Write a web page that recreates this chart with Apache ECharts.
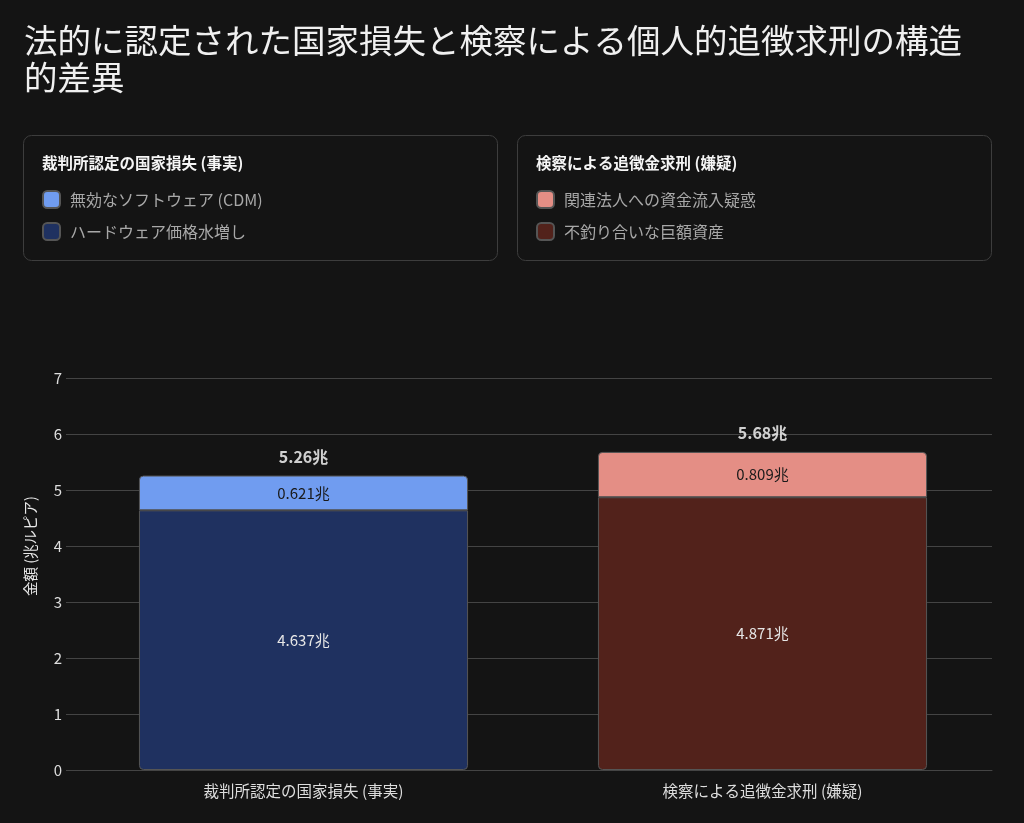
<!DOCTYPE html>
<html><head><meta charset="utf-8">
<script src="https://cdn.jsdelivr.net/npm/echarts@6/dist/echarts.min.js"></script>
<style>html,body{margin:0;padding:0;background:#141414;}#c{width:1024px;height:823px;}</style>
</head><body><div id="c"></div>
<script>
const categories = ['裁判所認定の国家損失 (事実)', '検察による追徴金求刑 (嫌疑)'];
const seriesNames = ['ハードウェア価格水増し', '無効なソフトウェア (CDM)', '不釣り合いな巨額資産', '関連法人への資金流入疑惑'];
const hardware = [4.637, null];
const software = [0.621, null];
const assets = [null, 4.871];
const inflow = [null, 0.809];
const yTicks = [0, 1, 2, 3, 4, 5, 6, 7];
const legendTitles = ['裁判所認定の国家損失 (事実)', '検察による追徴金求刑 (嫌疑)'];

const totals = categories.map((c, i) => [hardware, software, assets, inflow].reduce((s, a) => s + (a[i] || 0), 0));
const font = '"Noto Sans CJK JP", "Noto Sans", sans-serif';
const border = '#555';

function seg(name, data, color, labelColor, radius) {
  return {
    name, type: 'bar', stack: 'total', data, barWidth: '71.7%',
    itemStyle: { color, borderColor: border, borderWidth: 1, borderRadius: radius },
    label: { show: true, position: 'inside', color: labelColor, fontSize: 15, fontFamily: font,
      formatter: p => p.value == null ? '' : p.value + '兆' },
    emphasis: { disabled: true }
  };
}

const legendBase = {
  orient: 'vertical', top: 190, padding: 0, itemWidth: 17, itemHeight: 17, itemGap: 13,
  icon: 'roundRect', selectedMode: false,
  textStyle: { color: '#a8a8a8', fontSize: 16, lineHeight: 17, fontFamily: font, padding: [0, 0, 0, 5] }
};

const chart = echarts.init(document.getElementById('c'));
chart.setOption({
  backgroundColor: '#141414',
  animation: false,
  title: {
    text: '法的に認定された国家損失と検察による個人的追徴求刑の構造\n的差異',
    left: 19, top: 17,
    textStyle: { color: '#f0f0f0', fontSize: 33.5, fontWeight: 'normal', fontFamily: font, lineHeight: 37 }
  },
  graphic: [
    { type: 'rect', shape: { x: 23.5, y: 135.5, width: 474, height: 125, r: 8 }, style: { fill: '#141414', stroke: '#3d3d3d', lineWidth: 1 }, z: 0 },
    { type: 'rect', shape: { x: 517.5, y: 135.5, width: 474, height: 125, r: 8 }, style: { fill: '#141414', stroke: '#3d3d3d', lineWidth: 1 }, z: 0 },
    { type: 'text', left: 42, top: 155, style: { text: legendTitles[0], fill: '#f5f5f5', font: 'bold 15.5px ' + font }, z: 10 },
    { type: 'text', left: 536, top: 155, style: { text: legendTitles[1], fill: '#f5f5f5', font: 'bold 15.5px ' + font }, z: 10 }
  ],
  legend: [
    Object.assign({}, legendBase, { data: [seriesNames[1], seriesNames[0]], left: 42 }),
    Object.assign({}, legendBase, { data: [seriesNames[3], seriesNames[2]], left: 536 })
  ],
  grid: { left: 74, right: 32, top: 378, bottom: 53 },
  xAxis: {
    type: 'category', data: categories,
    axisLine: { show: true, lineStyle: { color: '#444' } },
    axisTick: { show: false },
    axisLabel: { color: '#dedede', fontSize: 15.5, fontFamily: font, margin: 13 }
  },
  yAxis: {
    type: 'value', min: yTicks[0], max: yTicks[yTicks.length - 1], interval: 1,
    name: '金額 (兆ルピア)', nameLocation: 'middle', nameGap: 36, nameRotate: 90,
    nameTextStyle: { color: '#e8e8e8', fontSize: 14.5, fontFamily: font, padding: [0, 0, 0, 56] },
    axisLine: { show: false },
    axisTick: { show: true, length: 8, lineStyle: { color: '#444' } },
    splitLine: { lineStyle: { color: '#444' } },
    axisLabel: { color: '#dedede', fontSize: 15, fontFamily: font, margin: 12 }
  },
  series: [
    seg(seriesNames[0], hardware, '#1f3160', '#e6e6e6', [0, 0, 4, 4]),
    seg(seriesNames[1], software, '#709cf0', '#1a1a1a', [4, 4, 0, 0]),
    seg(seriesNames[2], assets, '#52221b', '#e6e6e6', [0, 0, 4, 4]),
    seg(seriesNames[3], inflow, '#e48e85', '#1a1a1a', [4, 4, 0, 0]),
    {
      name: 'total', type: 'scatter', data: totals, symbolSize: 0, z: 10,
      label: { show: true, position: 'top', distance: 11, color: '#ffffff', fontSize: 16, fontWeight: 'bold', fontFamily: font,
        formatter: p => p.value.toFixed(2) + '兆' },
      emphasis: { disabled: true }
    }
  ]
});
</script></body></html>
